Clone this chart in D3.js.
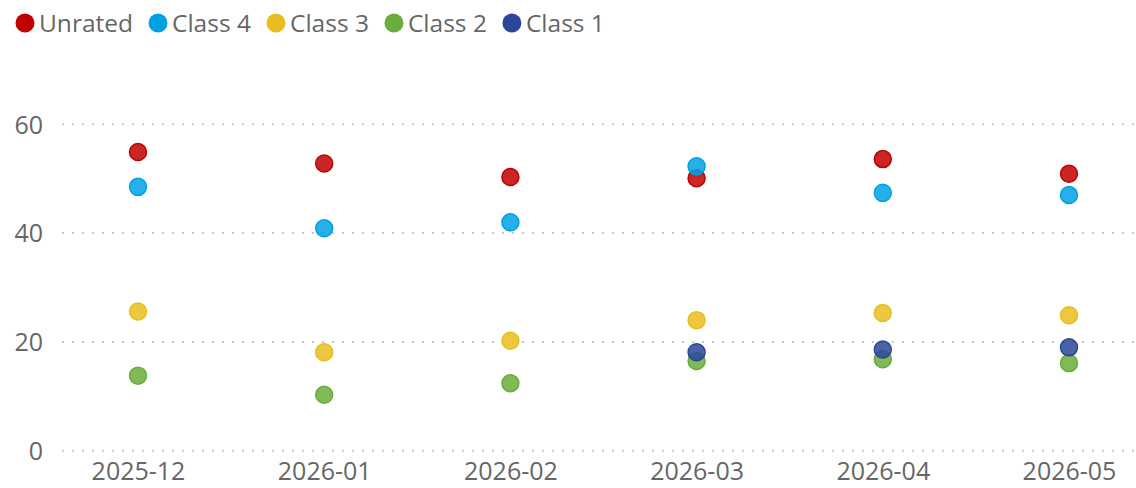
<!DOCTYPE html>
<html>
<head>
<meta charset="utf-8">
<script src="https://cdn.jsdelivr.net/npm/d3@7"></script>
<style>
  html, body { margin: 0; padding: 0; background: #fff; }
  svg { display: block; font-family: "Open Sans", "Noto Sans", sans-serif; }
</style>
</head>
<body>
<svg id="chart" width="1136" height="488"></svg>
<script>
// ---- data ----
const months = ["2025-12", "2026-01", "2026-02", "2026-03", "2026-04", "2026-05"];
const seriesNames = ["Unrated", "Class 4", "Class 3", "Class 2", "Class 1"];
const seriesColors = ["#C00000", "#00A1E4", "#E8BE1E", "#6AAD3A", "#2B4699"];
const unrated = [54.9, 52.8, 50.3, 50.1, 53.6, 50.9];
const class4  = [48.5, 40.9, 42.0, 52.3, 47.4, 47.0];
const class3  = [25.6, 18.1, 20.2, 24.0, 25.3, 24.9];
const class2  = [13.8, 10.3, 12.4, 16.5, 16.8, 16.1];
const class1  = [null, null, null, 18.1, 18.6, 19.0];
const yTicks = [0, 20, 40, 60];

const seriesValues = [unrated, class4, class3, class2, class1];

// ---- layout ----
const svg = d3.select("#chart");
const gridLeft = 62, gridRight = 1136;
const x = d3.scalePoint().domain(months).range([138, 1069]);
const y = d3.scaleLinear().domain([0, 60]).range([450.7, 124.3]);
const textColor = "#666666";
const fontSize = 25;

// y axis labels
const yAxis = d3.axisLeft(y).tickValues(yTicks).tickSize(0).tickPadding(0);
const gy = svg.append("g").attr("transform", `translate(43,0)`).call(yAxis);
gy.select(".domain").remove();
gy.selectAll("text")
  .attr("fill", textColor)
  .attr("font-size", fontSize)
  .attr("font-family", "Open Sans")
  .attr("dy", "0.35em");

// gridlines
svg.append("g").selectAll("line")
  .data(yTicks)
  .join("line")
  .attr("x1", gridLeft).attr("x2", gridRight)
  .attr("y1", d => y(d)).attr("y2", d => y(d))
  .attr("stroke", "#C8C8C8")
  .attr("stroke-width", 2)
  .attr("stroke-dasharray", "2 8");

// x axis
const xAxis = d3.axisBottom(x).tickSize(0).tickPadding(0);
const gx = svg.append("g").attr("transform", `translate(0,480)`).call(xAxis);
gx.select(".domain").remove();
gx.selectAll("text")
  .attr("fill", textColor)
  .attr("font-size", fontSize)
  .attr("font-family", "Open Sans")
  .attr("y", 0)
  .attr("dy", "0");

// points
seriesNames.forEach((name, si) => {
  const pts = months.map((m, i) => ({ m, v: seriesValues[si][i] })).filter(d => d.v != null);
  svg.append("g").selectAll("circle")
    .data(pts)
    .join("circle")
    .attr("cx", d => x(d.m))
    .attr("cy", d => y(d.v))
    .attr("r", 8.5)
    .attr("fill", seriesColors[si])
    .attr("fill-opacity", 0.85)
    .attr("stroke", seriesColors[si])
    .attr("stroke-width", 1.5);
});

// legend
const legend = svg.append("g");
let lx = 25;
const ly = 23;
seriesNames.forEach((name, si) => {
  legend.append("circle")
    .attr("cx", lx).attr("cy", ly).attr("r", 9.5)
    .attr("fill", seriesColors[si]);
  const t = legend.append("text")
    .attr("x", lx + 14).attr("y", ly)
    .attr("dy", "0.35em")
    .attr("fill", textColor)
    .attr("font-size", 24.5)
    .text(name);
  const w = t.node().getComputedTextLength();
  lx = lx + 14 + w + 25;
});
</script>
</body>
</html>
